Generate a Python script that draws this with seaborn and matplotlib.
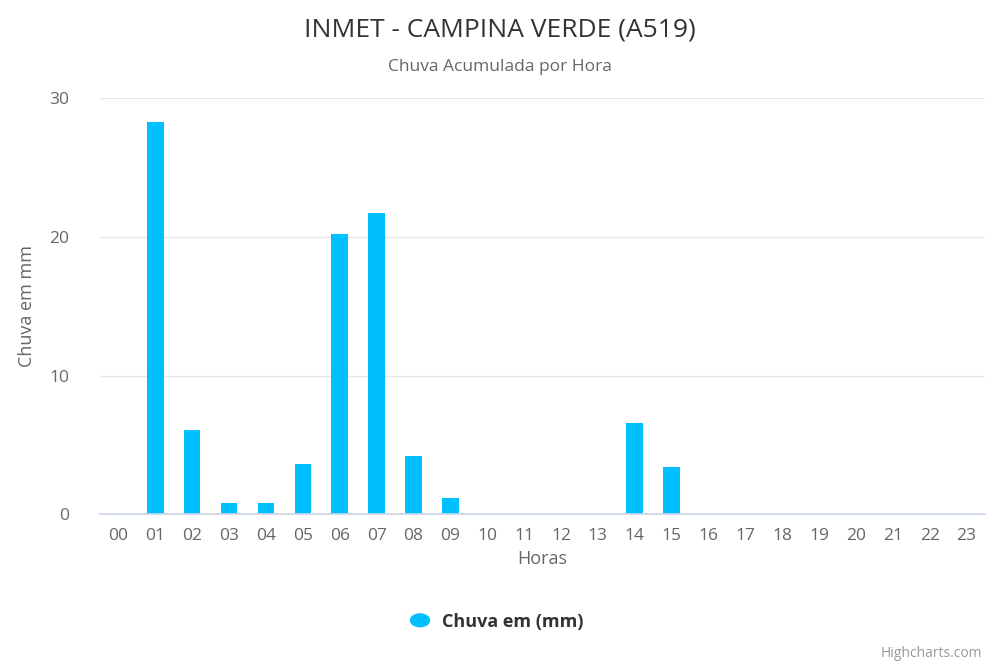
import matplotlib
matplotlib.use("Agg")
import matplotlib.pyplot as plt
import seaborn as sns
import pandas as pd

hours = [f"{h:02d}" for h in range(24)]
rain = [0, 28.3, 6.1, 0.8, 0.8, 3.6, 20.2, 21.7, 4.2, 1.2, 0, 0, 0, 0, 6.6, 3.4, 0, 0, 0, 0, 0, 0, 0, 0]
yticks = [0, 10, 20, 30]

sns.set_theme(style="white")
plt.rcParams['font.family'] = ['Open Sans', 'DejaVu Sans']

df = pd.DataFrame({"Horas": hours, "Chuva": rain})
fig = plt.figure(figsize=(10, 6.67), dpi=100)
ax = fig.add_axes([0.10, 0.229, 0.885, 0.624])
sns.barplot(data=df, x="Horas", y="Chuva", color="#00BFFF", saturation=1, width=0.45, ax=ax)
for p in ax.patches:
    p.set_edgecolor("none")
ax.set_ylim(0, 30)
ax.set_xlim(-0.5, 23.5)
ax.set_yticks(yticks)
ax.yaxis.grid(True, color="#e6e6e6", lw=1)
ax.set_axisbelow(True)
for s in ["top", "right", "left"]:
    ax.spines[s].set_visible(False)
ax.spines["bottom"].set_color("#ccd6eb")
ax.tick_params(axis="both", colors="#666666", labelsize=12.5, length=0, pad=10)
ax.tick_params(axis="y", pad=22)
ax.set_xlabel("Horas", color="#666666", fontsize=13)
ax.set_ylabel("Chuva em mm", color="#666666", fontsize=13, labelpad=10)
fig.text(0.5, 0.955, "INMET - CAMPINA VERDE (A519)", ha="center", va="center", fontsize=19, color="#333333")
fig.text(0.5, 0.90, "Chuva Acumulada por Hora", ha="center", va="center", fontsize=12.5, color="#666666")
fig.patches.append(matplotlib.patches.Circle((0.42, 0.07), 0.0095, transform=fig.transFigure, color="#00BFFF", figure=fig))
fig.text(0.442, 0.068, "Chuva em (mm)", ha="left", va="center", fontsize=13, fontweight="bold", color="#333333")
fig.text(0.982, 0.02, "Highcharts.com", ha="right", va="center", fontsize=10, color="#999999")
fig.savefig("out.png", dpi=100)
